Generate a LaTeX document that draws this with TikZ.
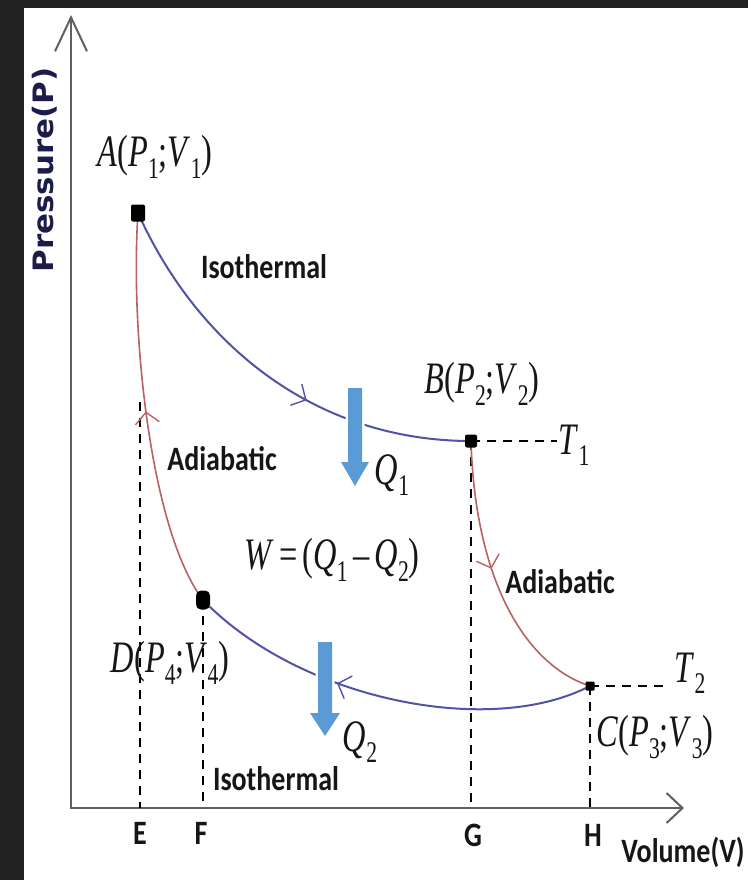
\documentclass[tikz,border=0pt]{standalone}
\usepackage{fontspec}
\usepackage{graphicx}
\usetikzlibrary{arrows.meta,decorations.markings}
\newfontfamily\tms{Liberation Serif}
\newfontfamily\clb{Carlito}
\newfontfamily\dvs{DejaVu Sans}
\definecolor{bgdark}{HTML}{222222}
\definecolor{isoblue}{HTML}{5252A6}
\definecolor{adred}{HTML}{B86262}
\definecolor{qblue}{HTML}{5B9BD5}
\definecolor{axgray}{HTML}{606060}
\definecolor{txt}{HTML}{161616}
\definecolor{navy}{HTML}{1C1C4A}
\newcommand\mlab[1]{\scalebox{0.72}[1]{\tms\fontsize{45}{50}\selectfont #1}}
\newcommand\msub[1]{\raisebox{-0.25em}{\fontsize{30}{30}\selectfont #1}}
\newcommand\slab[1]{\scalebox{1}[1.22]{\clb\bfseries\fontsize{28}{30}\selectfont #1}}
\tikzset{
  mk/.tip={Straight Barb[length=11pt,width=24pt,line width=1.4pt]},
  isoline/.style={isoblue, line width=2pt},
  adline/.style={adred, line width=1.6pt},
  markmid/.style={postaction={decorate}, decoration={markings, mark=at position #1 with {\arrow{mk}}}},
  guide/.style={black, line width=1.5pt, dash pattern=on 9pt off 7pt},
  axis/.style={axgray, line width=2.2pt},
  statept/.style={fill=black, inner sep=0pt, rounded corners=2pt},
  mathlabel/.style={inner sep=0pt, text=txt},
  sanslabel/.style={inner sep=0pt, text=txt},
  qarrow/.style={fill=qblue, preaction={draw=white, line width=5pt}},
}
\begin{document}
\begin{tikzpicture}[x=1pt,y=-1pt]
\useasboundingbox (0,0) rectangle (748,880);
\fill[bgdark] (0,0) rectangle (748,8);
\fill[bgdark] (0,0) rectangle (24,880);
\fill[white] (24,8) rectangle (748,880);

% coordinates
\coordinate (pA) at (138,213);
\coordinate (pB) at (471,441);
\coordinate (pC) at (590,686);
\coordinate (pD) at (203,600);
\coordinate (O) at (71,808);
\coordinate (Ytip) at (71,15);
\coordinate (Xtip) at (684,808);
\coordinate (E) at (140,808);
\coordinate (Etop) at (140,402);
\coordinate (F) at (203,808);
\coordinate (G) at (471,808);
\coordinate (H) at (590,808);
\coordinate (T1end) at (557,441);
\coordinate (T2end) at (668,686);

% axes
\draw[axis, {Straight Barb[length=34pt,width=32pt,line width=2pt]}-{Straight Barb[length=16pt,width=30pt,line width=2pt]}] (Ytip) -- (O) -- (Xtip);

% guide lines
\draw[guide] (Etop) -- (E);
\draw[guide] (pD) -- (F);
\draw[guide] (pB) -- (G);
\draw[guide] (pC) -- (H);
\draw[guide] (pB) -- (T1end);
\draw[guide] (pC) -- (T2end);

% cycle
\draw[isoline, markmid=0.6] (pA) .. controls (200,350) and (320,441) .. (pB);
\draw[adline, markmid=0.45] (pB) .. controls (475,580) and (525,665) .. (pC);
\draw[isoline, markmid=0.62] (pC) .. controls (490,738) and (300,700) .. (pD);
\draw[adline, markmid=0.5] (pD) .. controls (150,530) and (130,330) .. (pA);

% heat arrows
\path[qarrow] (348,388) -- (362,388) -- (362,462) -- (369,462) -- (355,486) -- (341,462) -- (348,462) -- cycle;
\path[qarrow] (318,642) -- (332,642) -- (332,713) -- (340,713) -- (325,736) -- (310,713) -- (318,713) -- cycle;

% state points
\node[statept, minimum width=14pt, minimum height=17pt] (A) at (pA) {};
\node[statept, minimum width=12pt, minimum height=13pt] (B) at (pB) {};
\node[statept, minimum width=9pt, minimum height=9pt, rounded corners=1pt] (C) at (pC) {};
\node[statept, minimum width=14pt, minimum height=19pt, rounded corners=5pt] (D) at (pD) {};

% math labels
\node[mathlabel] (labA) at (155,157) {\mlab{\textit{A}(\textit{P}\msub{1};\textit{V}\msub{1})}};
\node[mathlabel] (labB) at (482,384) {\mlab{\textit{B}(\textit{P}\msub{2};\textit{V}\msub{2})}};
\node[mathlabel] (labC) at (655,737) {\mlab{\textit{C}(\textit{P}\msub{3};\textit{V}\msub{3})}};
\node[mathlabel] (labD) at (170,663) {\mlab{\textit{D}(\textit{P}\msub{4};\textit{V}\msub{4})}};
\node[mathlabel] (labT1) at (574,445) {\mlab{\textit{T}\msub{1}}};
\node[mathlabel] (labT2) at (690,673) {\mlab{\textit{T}\msub{2}}};
\node[mathlabel] (labQ1) at (392,475) {\mlab{\textit{Q}\msub{1}}};
\node[mathlabel] (labQ2) at (360,742) {\mlab{\textit{Q}\msub{2}}};
\node[mathlabel] (labW) at (332,560) {\mlab{\textit{W}\,=\,(\textit{Q}\msub{1}\,\textendash\,\textit{Q}\msub{2})}};

% sans labels
\node[sanslabel] (iso1) at (264,267) {\slab{Isothermal}};
\node[sanslabel] (iso2) at (276,779) {\slab{Isothermal}};
\node[sanslabel] (adi1) at (222,459) {\slab{Adiabatic}};
\node[sanslabel] (adi2) at (560,582) {\slab{Adiabatic}};
\node[sanslabel] (labE) at (140,833) {\slab{E}};
\node[sanslabel] (labF) at (201,833) {\slab{F}};
\node[sanslabel] (labG) at (473,835) {\slab{G}};
\node[sanslabel] (labH) at (593,835) {\slab{H}};
\node[sanslabel] (vol) at (683,852) {\slab{Volume(V)}};
\node[inner sep=0pt, text=navy, rotate=90] (pres) at (45,170) {\resizebox*{205pt}{25pt}{\dvs\bfseries Pressure(P)}};
\end{tikzpicture}
\end{document}
